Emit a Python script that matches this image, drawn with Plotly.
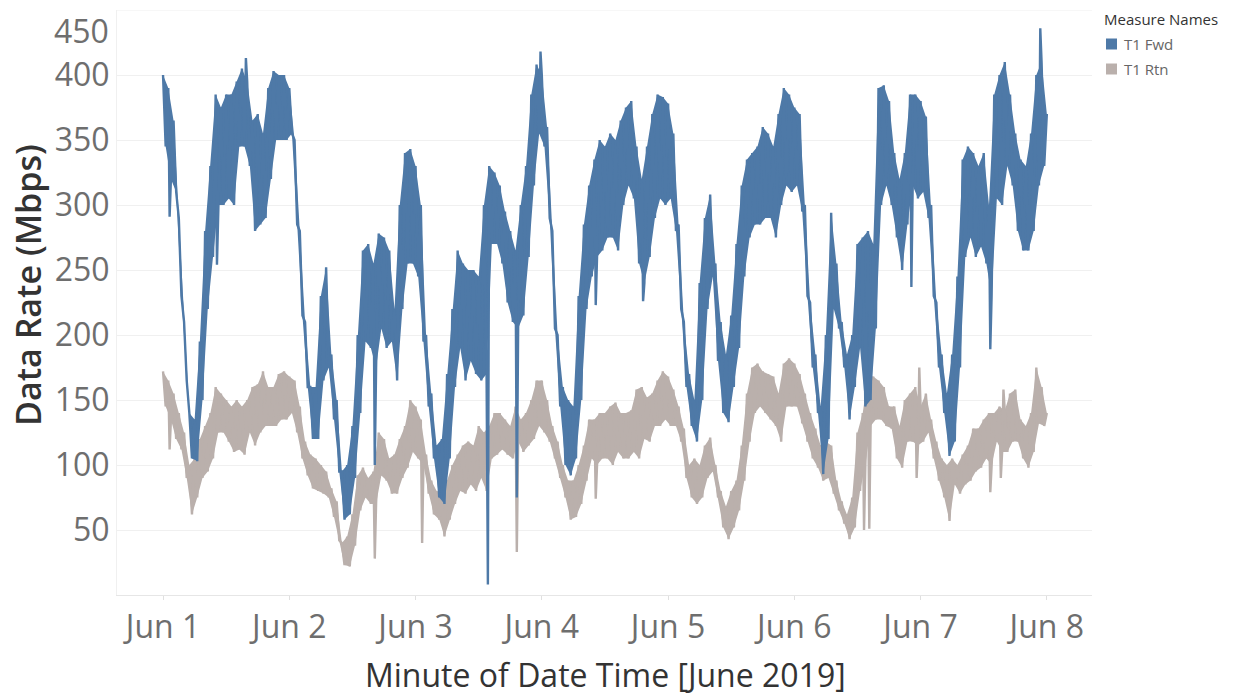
import pandas as pd
import plotly.graph_objects as go

# Hourly upper / lower envelope readings (Mbps), Jun 1 00:00 .. Jun 8 00:00
fwd_hi = [
    400, 390, 365, 290, 210, 140, 135, 195, 280, 330,
    385, 375, 385, 385, 395, 405, 395, 365, 370, 355,
    390, 403, 400, 400, 390, 350, 280, 210, 160, 160,
    230, 252, 185, 150, 95, 100, 130, 200, 265, 270,
    255, 278, 275, 265, 220, 300, 340, 343, 330, 300,
    200, 155, 115, 120, 170, 220, 265, 255, 250, 250,
    245, 300, 330, 325, 315, 295, 280, 265, 300, 330,
    385, 408, 400, 360, 280, 200, 160, 150, 145, 230,
    285, 315, 335, 350, 345, 355, 350, 365, 375, 380,
    345, 320, 345, 370, 385, 383, 378, 355, 285, 210,
    170, 150, 240, 290, 308, 255, 210, 185, 215, 270,
    315, 335, 340, 345, 360, 355, 345, 370, 390, 385,
    375, 370, 300, 225, 185, 145, 200, 294, 255, 210,
    185, 200, 270, 275, 280, 270, 390, 392, 380, 340,
    320, 340, 385, 385, 380, 368, 300, 225, 185, 155,
    185, 245, 335, 345, 340, 330, 340, 300, 385, 400,
    410, 385, 355, 335, 330, 355, 400, 410, 370,
]
fwd_lo = [
    345, 320, 310, 230, 165, 105, 103, 150, 220, 260,
    300, 300, 305, 300, 345, 345, 330, 280, 285, 290,
    320, 350, 350, 350, 355, 285, 215, 160, 120, 120,
    165, 175, 135, 95, 58, 62, 90, 140, 195, 190,
    175, 205, 190, 195, 165, 220, 255, 255, 245, 195,
    145, 105, 75, 70, 105, 160, 190, 165, 180, 170,
    165, 170, 270, 270, 255, 225, 210, 205, 215, 260,
    315, 355, 345, 290, 205, 145, 100, 92, 105, 150,
    220, 245, 260, 265, 275, 275, 265, 300, 315, 305,
    255, 240, 260, 290, 305, 300, 305, 280, 220, 160,
    130, 118, 150, 220, 245, 180, 140, 133, 160, 190,
    245, 275, 285, 285, 290, 290, 275, 300, 315, 310,
    315, 295, 230, 175, 140, 93, 120, 220, 205, 175,
    135, 160, 190, 145, 150, 205, 300, 315, 300, 275,
    250, 285, 315, 305, 310, 290, 230, 175, 140, 107,
    118, 175, 260, 275, 260, 268, 255, 230, 305, 300,
    330, 315, 280, 265, 265, 280, 315, 330,
]
# isolated one-minute excursions: hour offset from Jun 1 00:00, value
fwd_spike_hours = [1.25, 10.25, 15.75, 40.25, 61.75, 67.25, 71.75, 82.25, 91.25, 142.25, 157.25, 166.75]
fwd_spike_vals = [291, 254, 413, 100, 8, 75, 418, 223, 226, 237, 189, 436]

rtn_hi = [
    172, 165, 155, 140, 125, 100, 105, 120, 130, 140,
    160, 155, 150, 145, 150, 145, 150, 160, 162, 172,
    160, 160, 170, 172, 168, 165, 145, 118, 108, 105,
    100, 95, 82, 72, 40, 45, 62, 92, 98, 90,
    95, 125, 120, 105, 108, 120, 130, 150, 145, 135,
    108, 88, 80, 75, 88, 100, 108, 115, 118, 115,
    130, 125, 130, 140, 140, 135, 130, 145, 135, 140,
    150, 165, 165, 150, 130, 118, 100, 88, 88, 100,
    115, 135, 135, 140, 140, 145, 148, 140, 140, 142,
    158, 160, 152, 155, 165, 172, 168, 158, 145, 128,
    100, 105, 100, 115, 121, 100, 80, 68, 80, 88,
    115, 155, 175, 178, 172, 170, 168, 155, 178, 182,
    178, 170, 155, 140, 128, 115, 118, 115, 88, 72,
    62, 75, 125, 140, 168, 168, 165, 160, 145, 145,
    130, 150, 155, 160, 145, 155, 135, 118, 105, 100,
    105, 100, 108, 115, 128, 128, 135, 140, 140, 145,
    142, 155, 158, 135, 130, 140, 175, 160, 140,
]
rtn_lo = [
    145, 135, 120, 112, 90, 62, 75, 90, 95, 105,
    125, 125, 118, 110, 112, 108, 125, 115, 125, 130,
    130, 130, 135, 135, 140, 125, 105, 92, 82, 80,
    78, 75, 60, 42, 23, 22, 38, 65, 75, 70,
    70, 92, 88, 78, 78, 90, 98, 110, 105, 100,
    78, 62, 58, 45, 58, 70, 80, 78, 85, 80,
    90, 80, 105, 108, 112, 108, 105, 118, 110, 115,
    120, 130, 125, 118, 105, 90, 75, 58, 60, 70,
    88, 105, 100, 105, 105, 100, 110, 105, 105, 110,
    105, 120, 118, 130, 130, 135, 130, 130, 118, 90,
    75, 70, 75, 90, 95, 75, 52, 43, 52, 65,
    88, 118, 140, 145, 140, 135, 130, 118, 145, 145,
    145, 132, 118, 105, 98, 88, 90, 78, 65, 55,
    43, 52, 80, 100, 130, 135, 135, 130, 128, 105,
    98, 118, 118, 115, 118, 125, 105, 88, 75, 57,
    85, 78, 85, 88, 95, 98, 105, 100, 118, 110,
    110, 118, 118, 105, 98, 110, 132, 130,
]
rtn_spike_hours = [1.25, 40.25, 49.25, 67.25, 82.25, 133.25, 134.25, 143.25, 143.75, 157.25, 159.25, 159.75]
rtn_spike_vals = [112, 28, 40, 33, 74, 50, 51, 90, 175, 79, 90, 158]

y_ticks = [50, 100, 150, 200, 250, 300, 350, 400]
x_tick_dates = pd.date_range("2019-06-01", "2019-06-08", freq="D")
x_tick_text = [f"Jun {d.day}" for d in x_tick_dates]
legend_names = ["T1 Fwd", "T1 Rtn"]

start = pd.Timestamp("2019-06-01 00:00")


def at(hours):
    return start + pd.Timedelta(hours=hours)


def band(hi, lo):
    """Closed outline: upper readings on the hour, lower ones at half past."""
    top_t = [at(h) for h in range(len(hi))]
    bot_t = [at(h + 0.5) for h in range(len(lo))]
    return top_t + bot_t[::-1], list(hi) + list(lo)[::-1]


def trace_line(hi, lo, spike_h, spike_v):
    """The minute trace: hour/half-hour readings plus the isolated excursions."""
    pts = [(h, v) for h, v in enumerate(hi)]
    pts += [(h + 0.5, v) for h, v in enumerate(lo)]
    pts += list(zip(spike_h, spike_v))
    pts.sort(key=lambda p: p[0])
    return [at(h) for h, _ in pts], [v for _, v in pts]


FWD = "#4e79a7"
RTN = "#bab0ac"
FONT = "Open Sans"
TICK = "#6e6e6e"

# plot area in pixels: left 117, right 1092, top 10, bottom 595
PL, PR, PT, PB = 117, 1092, 10, 595


def px(x):
    return (x - PL) / (PR - PL)


def py(y):
    return (PB - y) / (PB - PT)


fig = go.Figure()
for name, col, hi, lo, sh, sv in [
    ("T1 Rtn", RTN, rtn_hi, rtn_lo, rtn_spike_hours, rtn_spike_vals),
    ("T1 Fwd", FWD, fwd_hi, fwd_lo, fwd_spike_hours, fwd_spike_vals),
]:
    bx, by = band(hi, lo)
    fig.add_trace(go.Scatter(x=bx, y=by, mode="lines", fill="toself", fillcolor=col,
                             line=dict(width=0), name=name, showlegend=False,
                             hoverinfo="skip"))
    lx, ly = trace_line(hi, lo, sh, sv)
    fig.add_trace(go.Scatter(x=lx, y=ly, mode="lines", line=dict(color=col, width=2.4),
                             name=name, showlegend=False, hoverinfo="skip"))

shapes = [dict(type="line", xref="paper", yref="y", x0=0, x1=1, y0=450, y1=450,
               line=dict(color="#f0f0f0", width=1), layer="below")]
annotations = [
    dict(text="450", xref="paper", yref="y", x=0, y=450,
         xanchor="right", yanchor="middle", xshift=-6, yshift=-20,
         showarrow=False, font=dict(size=32, color=TICK, family=FONT)),
    dict(text="Data Rate (Mbps)", xref="paper", yref="paper", x=px(28), y=py(285),
         xanchor="center", yanchor="middle", textangle=-90, showarrow=False,
         font=dict(size=34, color="#333333", family=FONT, weight=600)),
    dict(text="Minute of Date Time [June 2019]", xref="paper", yref="paper",
         x=px(605), y=py(674), xanchor="center", yanchor="middle", showarrow=False,
         font=dict(size=32, color="#333333", family=FONT)),
    dict(text="Measure Names", xref="paper", yref="paper", x=px(1102), y=py(19),
         xanchor="left", yanchor="middle", showarrow=False,
         font=dict(size=15, color="#333333", family=FONT)),
]
# colour legend on the right
for i, (name, col) in enumerate(zip(legend_names, [FWD, RTN])):
    cy = 44 + 25 * i
    shapes.append(dict(type="rect", xref="paper", yref="paper",
                       x0=px(1106), x1=px(1117), y0=py(cy + 5.5), y1=py(cy - 5.5),
                       fillcolor=col, line=dict(width=0)))
    annotations.append(dict(text=name, xref="paper", yref="paper", x=px(1122), y=py(cy),
                            xanchor="left", yanchor="middle", showarrow=False,
                            font=dict(size=15, color="#666666", family=FONT)))

fig.update_layout(
    width=1250, height=696,
    margin=dict(l=PL, r=1250 - PR, t=PT, b=696 - PB),
    paper_bgcolor="white", plot_bgcolor="white",
    font=dict(family=FONT, color=TICK),
    showlegend=False,
    xaxis=dict(
        type="date", automargin=False,
        range=["2019-05-31 15:15", "2019-06-08 08:35"],
        tickvals=list(x_tick_dates), ticktext=x_tick_text,
        tickfont=dict(size=32, color=TICK),
        showgrid=False, zeroline=False,
        showline=True, linecolor="#e6e6e6", linewidth=1,
        ticks="outside", ticklen=4, tickcolor="#e0e0e0",
    ),
    yaxis=dict(
        range=[0, 450], automargin=False,
        tickvals=y_ticks,
        tickfont=dict(size=32, color=TICK),
        showgrid=True, gridcolor="#f0f0f0", gridwidth=1,
        zeroline=False, showline=True, linecolor="#f0f0f0",
        ticks="", ticklabelstandoff=0,
    ),
    shapes=shapes,
    annotations=annotations,
)

fig.write_html("out.html")
